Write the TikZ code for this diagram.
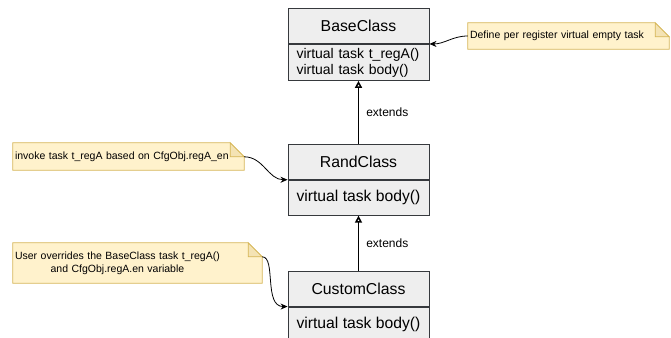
\documentclass[tikz,border=0pt]{standalone}
\usepackage{fontspec}
\setmainfont{Liberation Sans}
\usetikzlibrary{positioning,arrows.meta,backgrounds}
\definecolor{classfill}{HTML}{EEEEEE}
\definecolor{classline}{HTML}{36393D}
\definecolor{notefill}{HTML}{FFF2CC}
\definecolor{noteline}{HTML}{D6B656}
\definecolor{notefold}{HTML}{F4E3B4}
\tikzset{
  classhead/.style={draw=classline, fill=classfill, line width=0.9pt, minimum width=141pt, minimum height=35pt, inner sep=2pt, font=\fontsize{15.8}{19}\selectfont},
  classbody/.style={classhead, align=left, text width=124pt, inner xsep=8.5pt, minimum height=36pt, font=\fontsize{14}{16}\selectfont},
  notebox/.style={inner sep=2pt, align=left, font=\fontsize{10.5}{13}\selectfont},
  noteedge/.style={draw=noteline, fill=notefill, line width=0.8pt},
  notecorner/.style={draw=noteline, fill=notefold, line width=0.8pt},
  notelink/.style={-{Stealth[length=7pt,width=6pt]}, line width=0.8pt},
  extendsline/.style={-{Triangle[open,length=7pt,width=7pt]}, line width=1.5pt},
  extlabel/.style={midway, right, inner sep=0pt, xshift=7pt, font=\fontsize{12}{14}\selectfont}
}
\begin{document}
\begin{tikzpicture}[x=1pt,y=-1pt]
\useasboundingbox (0,0) rectangle (671,337);
% class boxes
\node [classhead] (BaseHead) at (358.5,26) {BaseClass};
\node [classbody] (BaseBody) [below=0pt of BaseHead] {virtual task t\_regA()\\ virtual task body()};
\node [classhead] (RandHead) [below=63pt of BaseBody] {RandClass};
\node [classhead, font=\fontsize{15.7}{19}\selectfont] (RandBody) [below=0pt of RandHead] {virtual task body()};
\node [classhead] (CustomHead) [below=55pt of RandBody] {CustomClass};
\node [classhead, minimum height=34pt, font=\fontsize{15.7}{19}\selectfont] (CustomBody) [below=0pt of CustomHead] {virtual task body()};
\draw [extendsline] (RandHead) -- node[extlabel]{extends} (BaseBody);
\draw [extendsline] (CustomHead) -- node[extlabel]{extends} (RandBody);
% notes
\node [notebox, minimum width=201pt, minimum height=26pt, text width=197pt] (DefNote) at (568.5,36) {Define per register virtual empty task};
\node [notebox, minimum width=231pt, minimum height=27pt, text width=227pt] (InvNote) at (128.5,156.5) {invoke task t\_regA based on CfgObj.regA\_en};
\node [notebox, minimum width=249pt, minimum height=40pt, text width=245pt] (UserNote) at (137.5,263) {\begin{tabular}{@{}c@{}}User overrides the BaseClass task t\_regA()\\ and CfgObj.regA.en variable\end{tabular}};
\begin{scope}[on background layer]
\foreach \n in {DefNote,InvNote,UserNote}{
  \draw [noteedge] (\n.south west) -- (\n.north west) -- ([xshift=-14pt]\n.north east) -- ([yshift=-14pt]\n.north east) coordinate (\n-fold) -- (\n.south east) -- cycle;
  \draw [notecorner] ([xshift=-14pt]\n.north east) -- ([xshift=-14pt,yshift=-14pt]\n.north east) -- (\n-fold) -- cycle;
}
\end{scope}
\draw [notelink] (DefNote.west) to[out=180,in=0] (BaseHead.south east);
\draw [notelink] (InvNote-fold) to[out=0,in=180] (RandHead.south west);
\draw [notelink] (UserNote-fold) .. controls +(14,0) and +(-24,0) .. (CustomHead.south west);
\end{tikzpicture}
\end{document}
